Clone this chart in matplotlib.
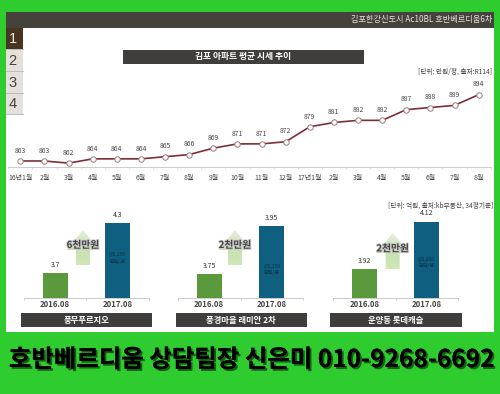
import numpy as np
import matplotlib
matplotlib.use('Agg')
import matplotlib.pyplot as plt
import matplotlib.patheffects as pe
from matplotlib.colors import LinearSegmentedColormap
from matplotlib.patches import Rectangle, Polygon

plt.rcParams['font.family'] = ['Noto Sans CJK KR', 'DejaVu Sans']

W, H = 500, 394

# line chart
months = ['16년1월', '2월', '3월', '4월', '5월', '6월', '7월', '8월', '9월', '10월', '11월', '12월',
          '17년1월', '2월', '3월', '4월', '5월', '6월', '7월', '8월']
prices = [863, 863, 862, 864, 864, 864, 865, 866, 869, 871, 871, 872,
          879, 881, 882, 882, 887, 888, 889, 894]

# bar charts
years = ['2016.08', '2017.08']
names = ['풍무푸르지오', '풍경마을 래미안 2차', '운양동 롯데캐슬']
vals1 = [3.7, 4.3]
vals2 = [3.75, 3.95]
vals3 = [3.92, 4.12]
gaps = ['6천만원', '2천만원', '2천만원']
notes = ['@1,250\n만원/평', '@1,150\n만원/평', '@1,200\n만원/평']

GREEN = '#2fcc30'
DARK = '#403e3c'


def px_axes(fig, x0, y0, x1, y1):
    # y counted from the top, like in the picture
    ax = fig.add_axes([x0 / W, 1 - y1 / H, (x1 - x0) / W, (y1 - y0) / H])
    ax.patch.set_alpha(0)
    return ax


fig = plt.figure(figsize=(W / 100, H / 100), dpi=100, facecolor=GREEN)

bg = fig.add_axes([0, 0, 1, 1])
bg.set_xlim(0, W)
bg.set_ylim(H, 0)
bg.axis('off')

# panel, header and tabs
bg.add_patch(Rectangle((6, 12), 488, 320, fc='white', ec='none'))
bg.add_patch(Rectangle((6, 12), 488, 16, fc='#45413b', ec='none'))
bg.text(492.5, 19.5, '김포한강신도시 Ac10BL 호반베르디움6차', color='#e4e2df', fontsize=5.9, ha='right', va='center')

tab_y = [28, 50, 71.5, 93]
for i, y in enumerate(tab_y):
    bg.add_patch(Rectangle((6, y), 17, 21, fc='#47351f' if i == 0 else '#e5e0dc', ec='none'))
    bg.plot([6, 23], [y + 21, y + 21], color='#b5b1ac', lw=0.6)
    bg.text(12.5, y + 11, str(i + 1), color='#e8e4de' if i == 0 else '#45413b', fontsize=10.5,
            ha='center', va='center', family='Liberation Sans')

# title of the line chart
bg.add_patch(Rectangle((122.5, 49.5), 241, 14, fc=DARK, ec='none'))
bg.text(243, 56.5, '김포 아파트 평균 시세 추이', color='white', fontsize=6.3, weight='bold', ha='center', va='center')
bg.text(492, 71.5, '[단위: 만원/평, 출처:R114]', color='#444444', fontsize=4.8, ha='right', va='center')
bg.text(493, 205.5, '[단위: 억원, 출처:kb부동산, 34평기준]', color='#444444', fontsize=4.8, ha='right', va='center')

# line chart, baseline at y=167, 863 sits on y=161
ax = px_axes(fig, 8.3, 75, 490.7, 167.3)
x = np.arange(len(months))
ax.plot(x, prices, color='#7d2f38', lw=1.2, marker='o', ms=3.9, mfc='white', mec='#9a7a7e', mew=0.7)
ax.set_xlim(-0.5, len(months) - 0.5)
ax.set_ylim(860.05, 903.2)
for i, v in zip(x, prices):
    ax.annotate(str(v), (i, v), xytext=(0, 4.5), textcoords='offset points', ha='center', va='bottom',
                fontsize=4.9, color='#444444')
ax.set_yticks([])
ax.set_xticks(np.arange(len(months) + 1) - 0.5, minor=True)
ax.set_xticks(x)
ax.set_xticklabels(months, fontsize=5, color='#444444')
ax.tick_params(axis='x', which='major', length=0, pad=5)
ax.tick_params(axis='x', which='minor', length=1.5, color='#cccccc', width=0.5)
for s in ['top', 'left', 'right']:
    ax.spines[s].set_visible(False)
ax.spines['bottom'].set_color('#cccccc')
ax.spines['bottom'].set_linewidth(0.7)

# three small bar charts
rects = [(24, 148.7), (178, 303), (333, 458)]
ylims = [(3.4, 3.4 + 100 / 83.3), (3.65, 3.65 + 100 / 238), (3.8, 3.8 + 100 / 238)]
title_x = [(20.5, 152), (175.5, 306.5), (330, 461.5)]
arrow_x = [83, 235, 392.7]
arrow_top = [230, 230, 233]
arrow_bot = [265, 265, 269]
gap_y = [245, 245, 248.5]
note_frac = [0.53, 0.4, 0.46]
arrow_cmap = LinearSegmentedColormap.from_list('arrow', ['#e6efdc', '#c9e0b2', '#cfe8b8'])

for n, vals in enumerate([vals1, vals2, vals3]):
    ax = px_axes(fig, rects[n][0], 197.7, rects[n][1], 297.7)
    ax.bar([0, 1], vals, width=0.4, color=['#5a9a3c', '#0f5f80'])
    ax.set_xlim(-0.5, 1.5)
    ax.set_ylim(*ylims[n])
    for i, v in enumerate(vals):
        ax.annotate(str(v), (i, v), xytext=(0, 3), textcoords='offset points', ha='center', va='bottom',
                    fontsize=5, color='#333333')
    ax.text(1, ylims[n][0] + (vals[1] - ylims[n][0]) * note_frac[n], notes[n], ha='center', va='center',
            fontsize=3.6, color='#0c3346', linespacing=1.3)
    ax.set_yticks([])
    ax.set_xticks([-0.5, 0.5, 1.5], minor=True)
    ax.set_xticks([0, 1])
    ax.set_xticklabels(years, fontsize=5.6, weight='bold', color='#444444')
    ax.tick_params(axis='x', which='major', length=0, pad=2)
    ax.tick_params(axis='x', which='minor', length=1.2, color='#bbbbbb', width=0.5)
    for s in ['top', 'left', 'right']:
        ax.spines[s].set_visible(False)
    ax.spines['bottom'].set_color('#cccccc')
    ax.spines['bottom'].set_linewidth(0.7)

    # gradient arrow between the bars
    cx = arrow_x[n]
    top, bot = arrow_top[n], arrow_bot[n]
    shape = Polygon([(cx, top), (cx + 16.5, top + 20), (cx + 7, top + 20), (cx + 7, bot),
                     (cx - 7, bot), (cx - 7, top + 20), (cx - 16.5, top + 20)],
                    closed=True, fc='none', ec='none', transform=bg.transData)
    bg.add_patch(shape)
    grad = np.linspace(0, 1, 64).reshape(-1, 1)
    im = bg.imshow(grad, extent=(cx - 17, cx + 17, bot, top), aspect='auto', zorder=2, cmap=arrow_cmap)
    im.set_clip_path(shape)
    bg.text(cx, gap_y[n], gaps[n], fontsize=7, weight='bold', color='#444444', ha='center', va='center', zorder=3,
            path_effects=[pe.withStroke(linewidth=1.2, foreground='#c8c8c8')])

    # name plate
    x0, x1 = title_x[n]
    bg.add_patch(Rectangle((x0, 313), x1 - x0, 14.3, fc=DARK, ec='none'))
    bg.text((x0 + x1) / 2, 320, names[n], color='white', fontsize=6, weight='bold', ha='center', va='center')

bg.set_xlim(0, W)
bg.set_ylim(H, 0)

# banner
bg.text(251.5, 360, '호반베르디움 상담팀장 신은미 010-9268-6692', fontsize=17.6, weight='bold', color='black',
        ha='center', va='center',
        path_effects=[pe.withSimplePatchShadow(offset=(1.4, -1.4), shadow_rgbFace='#146014', alpha=1), pe.Normal()])

fig.savefig('out.png', dpi=100, facecolor=GREEN)
